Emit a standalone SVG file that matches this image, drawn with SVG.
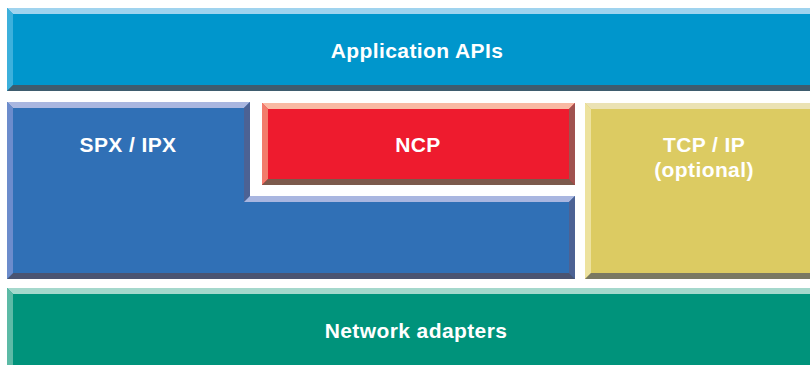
<svg xmlns="http://www.w3.org/2000/svg" width="810" height="365" viewBox="0 0 810 365">
<style>
text{font-family:"Liberation Sans",Arial,sans-serif;font-weight:bold;font-size:21px;fill:#ffffff;text-anchor:middle;letter-spacing:0.4px}
.app .f{fill:#0096cc}.app .t{fill:#9fd3ee}.app .l{fill:#3cb0dc}.app .b{fill:#3e5c6e}.app .r{fill:#2a6c8c}
.spx .f{fill:#3070b6}.spx .t{fill:#a9b6e0}.spx .l{fill:#6c8ccc}.spx .r{fill:#4c6294}.spx .b{fill:#4a5472}
.ncp .f{fill:#ee1b2e}.ncp .t{fill:#f9b9a3}.ncp .l{fill:#f27c6c}.ncp .r{fill:#a0524f}.ncp .b{fill:#7c5a4c}
.tcp .f{fill:#dccb62}.tcp .t{fill:#ebe2b4}.tcp .l{fill:#ede29e}.tcp .r{fill:#8a8660}.tcp .b{fill:#7a7962}
.net .f{fill:#00937b}.net .t{fill:#a4d8cc}.net .l{fill:#5cbaa6}.net .r{fill:#1a6a5a}.net .b{fill:#2a5a50}
</style>
<rect width="810" height="365" fill="#ffffff"/>
<g id="application-apis" class="app">
<rect class="f" x="7" y="8" width="809" height="83"/>
<polygon class="t" points="7,8 816,8 810,14 13,14"/>
<polygon class="l" points="7,8 13,14 13,85 7,91"/>
<polygon class="b" points="7,91 816,91 810,85 13,85"/>
<text x="417" y="58">Application APIs</text>
</g>
<g id="spx-ipx" class="spx">
<polygon class="f" points="7,102 250,102 250,196 575,196 575,279 7,279"/>
<polygon class="t" points="7,102 250,102 244,108 13,108"/>
<polygon class="r" points="250,102 250,196 244,202 244,108"/>
<polygon class="t" points="250,196 575,196 569,202 244,202"/>
<polygon class="r" points="575,196 575,279 569,273 569,202"/>
<polygon class="b" points="7,279 575,279 569,273 13,273"/>
<polygon class="l" points="7,102 13,108 13,273 7,279"/>
<text x="128" y="152">SPX / IPX</text>
</g>
<g id="ncp" class="ncp">
<rect class="f" x="262" y="103" width="313" height="82"/>
<polygon class="t" points="262,103 575,103 569,109 268,109"/>
<polygon class="l" points="262,103 268,109 268,179 262,185"/>
<polygon class="r" points="575,103 575,185 569,179 569,109"/>
<polygon class="b" points="262,185 575,185 569,179 268,179"/>
<text x="418" y="152">NCP</text>
</g>
<g id="tcp-ip" class="tcp">
<rect class="f" x="585" y="103" width="231" height="176"/>
<polygon class="t" points="585,103 816,103 810,109 591,109"/>
<polygon class="l" points="585,103 591,109 591,273 585,279"/>
<polygon class="b" points="585,279 816,279 810,273 591,273"/>
<text x="704" y="152">TCP / IP</text>
<text x="704" y="177">(optional)</text>
</g>
<g id="network-adapters" class="net">
<rect class="f" x="7" y="288" width="809" height="84"/>
<polygon class="t" points="7,288 816,288 810,294 13,294"/>
<polygon class="l" points="7,288 13,294 13,366 7,372"/>
<text x="416" y="338">Network adapters</text>
</g>
<g id="connectors"/>
</svg>
